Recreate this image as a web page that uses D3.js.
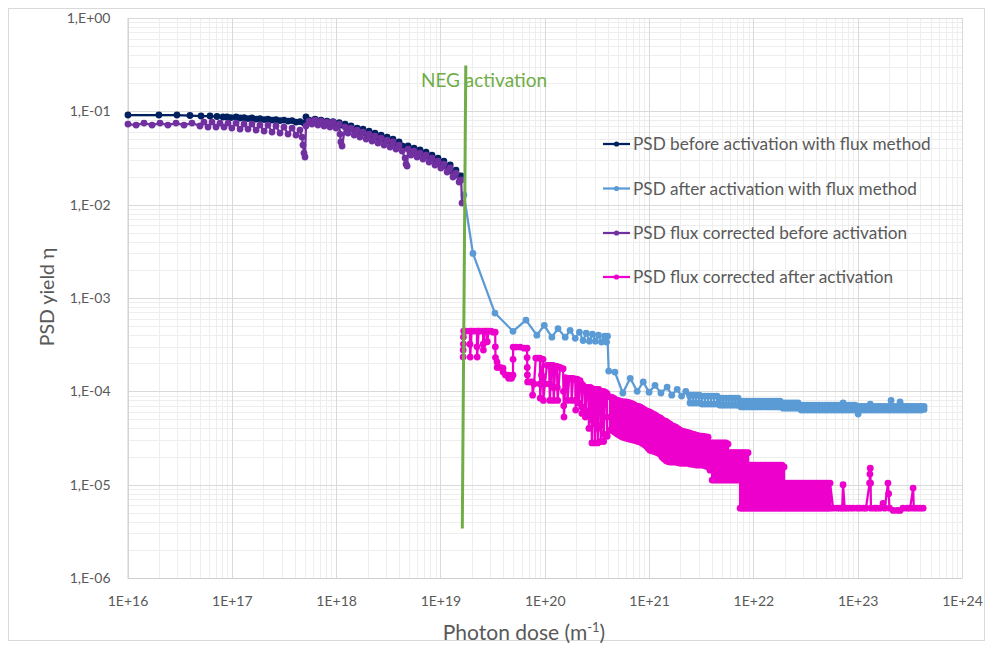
<!DOCTYPE html>
<html><head><meta charset="utf-8">
<script src="https://cdn.jsdelivr.net/npm/d3@7"></script>
<style>body{margin:0;background:#fff}svg{display:block}text{font-family:Lato,"Open Sans",sans-serif}</style>
</head><body><svg id="c" width="986" height="645"></svg>
<script>
const xTicks = [1e16,1e17,1e18,1e19,1e20,1e21,1e22,1e23,1e24];
const xTickLabels = ["1E+16","1E+17","1E+18","1E+19","1E+20","1E+21","1E+22","1E+23","1E+24"];
const yTicks = [1e-6,1e-5,1e-4,1e-3,1e-2,1e-1,1];
const yTickLabels = ["1,E-06","1,E-05","1,E-04","1,E-03","1,E-02","1,E-01","1,E+00"];
const seriesNames = ["PSD before activation with flux method","PSD after activation with flux method","PSD flux corrected before activation","PSD flux corrected after activation"];
const seriesColors = ["#002060","#5b9bd5","#7030a0","#ee00cc"];
const xTitle = "Photon dose (m";
const yTitle = "PSD yield η";
const negLabel = "NEG activation";

const navyBefore = [
[1.01e16,0.0913],[2.0e16,0.0913],[2.98e16,0.0913],[3.97e16,0.0902],[5.07e16,0.0891],[6.18e16,0.0891],[7.21e16,0.0880],[8.23e16,0.0869],
[8.99e16,0.0869],[9.82e16,0.0858],[1.10e17,0.0869],[1.20e17,0.0848],[1.31e17,0.0858],[1.43e17,0.0837],[1.56e17,0.0848],[1.71e17,0.0827],
[1.86e17,0.0837],[2.04e17,0.0817],[2.22e17,0.0827],[2.43e17,0.0807],[2.65e17,0.0817],[2.90e17,0.0797],[3.16e17,0.0807],[3.46e17,0.0787],
[3.78e17,0.0797],[4.12e17,0.0768],[4.50e17,0.0777],[4.92e17,0.0749],[5.14e17,0.0869],[5.50e17,0.0807],[5.87e17,0.0787],[6.28e17,0.0827],
[6.70e17,0.0777],[7.16e17,0.0807],[7.66e17,0.0768],[8.18e17,0.0787],[8.74e17,0.0749],[9.34e17,0.0777],[9.98e17,0.0731],[1.07e18,0.0758],
[1.14e18,0.0713],[1.22e18,0.0731],[1.30e18,0.0662],[1.39e18,0.0696],[1.49e18,0.0630],[1.59e18,0.0662],[1.69e18,0.0600],[1.81e18,0.0646],
[1.94e18,0.0571],[2.07e18,0.0615],[2.21e18,0.0543],[2.36e18,0.0585],[2.52e18,0.0517],[2.70e18,0.0557],[2.88e18,0.0492],[3.08e18,0.0530],
[3.29e18,0.0469],[3.51e18,0.0505],[3.75e18,0.0446],[4.01e18,0.0469],[4.29e18,0.0425],[4.58e18,0.0414],[4.89e18,0.0425],[5.23e18,0.0385],
[5.58e18,0.0404],[5.97e18,0.0366],[6.37e18,0.0385],[6.81e18,0.0349],[7.28e18,0.0366],[7.78e18,0.0324],[8.30e18,0.0340],[8.87e18,0.0301],
[9.48e18,0.0316],[1.01e19,0.0279],[1.08e19,0.0293],[1.16e19,0.0253],[1.24e19,0.0266],[1.32e19,0.0224],[1.41e19,0.0235],[1.51e19,0.0203],
[1.58e19,0.0203]
];

const blueAfter = [
[1.68e19,1.27e-2],[2.05e19,3.0e-3],[3.33e19,6.9e-4],[4.96e19,4.4e-4],[6.6e19,5.8e-4],[8.4e19,4.0e-4],[9.9e19,5.1e-4],[1.17e20,3.8e-4],
[1.34e20,4.7e-4],[1.57e20,3.8e-4],[1.75e20,4.5e-4],[1.96e20,3.7e-4],[2.15e20,4.3e-4],[2.33e20,3.5e-4],[2.5e20,4.2e-4],[2.68e20,3.45e-4],
[2.86e20,4.1e-4],[3.06e20,3.45e-4],[3.27e20,4.0e-4],[3.5e20,3.37e-4],[3.74e20,3.9e-4],[3.92e20,3.37e-4],[4.0e20,3.9e-4],[4.1e20,1.65e-4],
[4.7e20,1.61e-4],[5.6e20,9.6e-5],[6.6e20,1.38e-4],[7.7e20,1.0e-4],[8.8e20,1.26e-4],[1.0e21,9.8e-5],[1.14e21,1.16e-4],[1.3e21,9.6e-5],
[1.49e21,1.11e-4],[1.65e21,9.1e-5],[1.86e21,1.05e-4],[2.05e21,8.9e-5],[2.25e21,1.0e-4]
];
// dense part: [dose, highest yield, lowest yield]
const blueBand = [
[2.47e21,9.1e-5,7.5e-5],[2.64e21,9.1e-5,7.5e-5],[2.82e21,9.1e-5,7.5e-5],[3.02e21,9.1e-5,7.5e-5],[3.22e21,8.9e-5,7.3e-5],[3.44e21,8.9e-5,7.3e-5],
[3.68e21,8.9e-5,7.3e-5],[3.93e21,8.9e-5,7.3e-5],[4.20e21,8.9e-5,7.3e-5],[4.49e21,8.9e-5,7.3e-5],[4.80e21,8.45e-5,7.1e-5],[5.12e21,8.45e-5,7.1e-5],
[5.47e21,8.45e-5,7.1e-5],[5.85e21,8.45e-5,7.1e-5],[6.25e21,8.45e-5,7.1e-5],[6.68e21,8.45e-5,7.1e-5],[7.13e21,8.45e-5,7.1e-5],[7.62e21,7.85e-5,6.8e-5],
[8.14e21,7.85e-5,6.8e-5],[8.70e21,7.85e-5,6.8e-5],[9.30e21,7.85e-5,6.8e-5],[9.93e21,7.85e-5,6.8e-5],[1.06e22,7.85e-5,6.8e-5],[1.13e22,7.85e-5,6.8e-5],
[1.21e22,7.85e-5,6.8e-5],[1.29e22,7.85e-5,6.8e-5],[1.38e22,7.85e-5,6.8e-5],[1.48e22,7.85e-5,6.8e-5],[1.58e22,7.85e-5,6.8e-5],[1.69e22,7.85e-5,6.8e-5],
[1.80e22,7.85e-5,6.8e-5],[1.93e22,7.5e-5,6.6e-5],[2.06e22,7.5e-5,6.6e-5],[2.20e22,7.5e-5,6.6e-5],[2.35e22,7.5e-5,6.6e-5],[2.51e22,7.5e-5,6.6e-5],
[2.68e22,7.5e-5,6.6e-5],[2.87e22,7.1e-5,6.3e-5],[3.06e22,7.1e-5,6.3e-5],[3.27e22,7.1e-5,6.3e-5],[3.50e22,7.1e-5,6.3e-5],[3.74e22,7.1e-5,6.3e-5],
[3.99e22,7.1e-5,6.3e-5],[4.27e22,7.1e-5,6.3e-5],[4.56e22,7.1e-5,6.3e-5],[4.87e22,7.1e-5,6.3e-5],[5.20e22,7.1e-5,6.3e-5],[5.56e22,7.1e-5,6.3e-5],
[5.94e22,7.1e-5,6.3e-5],[6.35e22,7.1e-5,6.3e-5],[6.78e22,7.1e-5,6.3e-5],[7.24e22,7.5e-5,6.3e-5],[7.74e22,7.1e-5,6.3e-5],[8.27e22,7.1e-5,6.3e-5],
[8.84e22,7.1e-5,6.3e-5],[9.44e22,7.1e-5,6.3e-5],[1.01e23,6.9e-5,5.7e-5],[1.08e23,6.9e-5,6.3e-5],[1.15e23,6.9e-5,6.3e-5],[1.23e23,6.9e-5,6.3e-5],
[1.32e23,7.3e-5,6.3e-5],[1.40e23,6.9e-5,6.3e-5],[1.50e23,6.9e-5,6.3e-5],[1.60e23,6.9e-5,6.3e-5],[1.71e23,6.9e-5,6.3e-5],[1.83e23,6.9e-5,6.3e-5],
[1.96e23,6.9e-5,6.3e-5],[2.09e23,8.0e-5,6.3e-5],[2.23e23,6.9e-5,6.3e-5],[2.39e23,6.9e-5,6.3e-5],[2.55e23,7.7e-5,6.3e-5],[2.72e23,6.9e-5,6.3e-5],
[2.91e23,6.9e-5,6.3e-5],[3.11e23,6.9e-5,6.3e-5],[3.32e23,6.9e-5,6.3e-5],[3.55e23,6.9e-5,6.3e-5],[3.79e23,6.9e-5,6.3e-5],[4.05e23,6.9e-5,6.3e-5],
[4.33e23,6.9e-5,6.4e-5]
];

const purpleBefore = [
[1.01e16,0.0731],[1.21e16,0.0713],[1.44e16,0.0749],[1.72e16,0.0713],[2.05e16,0.0749],[2.44e16,0.0713],[2.92e16,0.0749],[3.48e16,0.0713],
[4.15e16,0.0749],[4.95e16,0.0696],[5.41e16,0.0768],[5.91e16,0.0679],[6.46e16,0.0768],[7.06e16,0.0679],[7.71e16,0.0749],[8.42e16,0.0679],
[9.20e16,0.0749],[1.00e17,0.0662],[1.10e17,0.0749],[1.20e17,0.0646],[1.31e17,0.0731],[1.43e17,0.0646],[1.56e17,0.0731],[1.71e17,0.0630],
[1.86e17,0.0713],[2.04e17,0.0615],[2.22e17,0.0713],[2.43e17,0.0600],[2.65e17,0.0696],[2.90e17,0.0585],[3.16e17,0.0679],[3.46e17,0.0571],
[3.78e17,0.0662],[4.12e17,0.0557],[4.50e17,0.0630],[4.71e17,0.0530],[4.81e17,0.0435],[4.92e17,0.0357],[5.03e17,0.0324],[5.14e17,0.0696],
[5.50e17,0.0787],[5.87e17,0.0731],[6.28e17,0.0807],[6.70e17,0.0713],[7.16e17,0.0787],[7.66e17,0.0696],[8.18e17,0.0768],[8.74e17,0.0679],
[9.34e17,0.0768],[9.98e17,0.0662],[1.07e18,0.0731],[1.09e18,0.0571],[1.11e18,0.0469],[1.14e18,0.0425],[1.22e18,0.0679],[1.30e18,0.0585],
[1.39e18,0.0662],[1.49e18,0.0557],[1.59e18,0.0630],[1.69e18,0.0530],[1.81e18,0.0600],[1.94e18,0.0505],[2.07e18,0.0571],[2.21e18,0.0480],
[2.36e18,0.0543],[2.52e18,0.0457],[2.70e18,0.0517],[2.88e18,0.0435],[3.08e18,0.0492],[3.29e18,0.0414],[3.51e18,0.0469],[3.75e18,0.0394],
[4.01e18,0.0435],[4.29e18,0.0375],[4.58e18,0.0316],[4.68e18,0.0272],[4.79e18,0.0259],[4.89e18,0.0394],[5.23e18,0.0340],[5.58e18,0.0375],
[5.97e18,0.0324],[6.37e18,0.0357],[6.81e18,0.0308],[7.28e18,0.0340],[7.78e18,0.0286],[8.30e18,0.0316],[8.87e18,0.0266],[9.48e18,0.0293],
[1.01e19,0.0247],[1.08e19,0.0272],[1.16e19,0.0224],[1.24e19,0.0247],[1.32e19,0.0198],[1.41e19,0.0218],[1.51e19,0.0175],[1.58e19,0.0184],
[1.61e19,0.0104]
];

const pinkEarly = [
[1.65e19,2.33e-4],[1.65e19,2.77e-4],[1.66e19,3.21e-4],[1.66e19,3.81e-4],[1.67e19,4.42e-4],[1.76e19,4.42e-4],
[1.92e19,4.42e-4],[1.92e19,3.2e-4],[1.93e19,2.33e-4],[1.99e19,4.42e-4],[2.10e19,4.42e-4],
[2.24e19,4.42e-4],[2.24e19,3.0e-4],[2.25e19,2.33e-4],[2.32e19,4.42e-4],[2.40e19,4.42e-4],
[2.56e19,4.42e-4],[2.57e19,3.2e-4],[2.58e19,2.77e-4],[2.68e19,4.42e-4],[2.80e19,4.42e-4],[2.81e19,3.4e-4],
[2.90e19,4.42e-4],[3.05e19,4.42e-4],[3.20e19,4.3e-4],[3.35e19,4.3e-4],[3.36e19,3.0e-4],[3.37e19,2.3e-4],
[3.49e19,2.06e-4],[3.50e19,1.8e-4],[3.73e19,1.8e-4],[3.98e19,1.77e-4],[3.99e19,1.61e-4],[4.20e19,1.5e-4],
[4.50e19,1.49e-4],[4.51e19,1.38e-4],[4.80e19,1.38e-4],[4.96e19,1.49e-4],[4.97e19,2.2e-4],[4.98e19,2.98e-4],
[5.30e19,2.98e-4],[5.80e19,2.98e-4],[6.33e19,2.9e-4],[6.77e19,2.9e-4],[6.78e19,2.3e-4],[6.80e19,1.8e-4],[6.82e19,1.5e-4],[6.85e19,1.26e-4],
[7.23e19,1.26e-4],[7.60e19,1.26e-4],[7.65e19,9.1e-5],[7.90e19,1.2e-4],[8.20e19,2.27e-4],[8.60e19,2.27e-4],
[9.00e19,2.27e-4],[9.02e19,1.2e-4],[9.05e19,8.45e-5],[9.30e19,1.5e-4],[9.63e19,2.2e-4],[9.65e19,1.4e-4],[9.70e19,8.0e-5],
[1.00e20,1.2e-4],[1.05e20,1.9e-4],[1.10e20,1.9e-4],[1.11e20,1.2e-4],[1.12e20,8.0e-5],[1.16e20,1.9e-4],
[1.20e20,1.9e-4],[1.21e20,1.1e-4],[1.22e20,8.0e-5],[1.26e20,1.85e-4],[1.31e20,1.85e-4],[1.32e20,1.1e-4],[1.33e20,8.0e-5],
[1.40e20,1.8e-4],[1.50e20,1.75e-4],[1.51e20,1.0e-4],[1.52e20,7.0e-5],[1.53e20,5.3e-5],[1.58e20,1.4e-4],
[1.64e20,1.38e-4],[1.65e20,8.0e-5],[1.72e20,1.38e-4],[1.80e20,1.38e-4],[1.81e20,8.0e-5],[1.87e20,1.38e-4],
[1.96e20,1.35e-4],[1.97e20,8.0e-5],[1.98e20,6.3e-5],[2.04e20,1.35e-4],[2.10e20,1.3e-4],[2.11e20,7.5e-5],[2.18e20,1.3e-4],
[2.25e20,1.2e-4],[2.26e20,6.8e-5],[2.27e20,5.8e-5],[2.33e20,1.16e-4],[2.43e20,1.1e-4],[2.44e20,6.3e-5],[2.45e20,5.3e-5],
[2.55e20,1.1e-4],[2.63e20,1.08e-4],[2.64e20,5.8e-5],[2.65e20,4.0e-5],[2.72e20,1.1e-4],[2.80e20,1.08e-4],[2.81e20,5.0e-5],[2.83e20,2.8e-5],
[2.90e20,1.05e-4],[3.00e20,1.05e-4],[3.01e20,4.5e-5],[3.02e20,2.8e-5],[3.10e20,1.05e-4],[3.20e20,1.0e-4],[3.21e20,4.0e-5],[3.22e20,2.8e-5],
[3.30e20,1.05e-4],[3.42e20,1.0e-4],[3.43e20,4.3e-5],[3.44e20,2.9e-5],[3.55e20,1.0e-4],[3.65e20,1.0e-4],[3.66e20,3.5e-5],[3.67e20,2.9e-5],
[3.80e20,9.8e-5],[3.95e20,9.5e-5],[3.96e20,5.3e-5],[3.97e20,3.3e-5]
];

// dense part: [dose, highest yield, lowest yield]
const pinkBand = [
[4.23e20,8.7e-5,3.84e-5],[4.42e20,8.6e-5,3.8e-5],[4.62e20,8.4e-5,3.7e-5],[4.83e20,8.1e-5,3.55e-5],[5.04e20,8.0e-5,3.45e-5],
[5.27e20,7.85e-5,3.35e-5],[5.51e20,7.75e-5,3.25e-5],[5.76e20,7.7e-5,3.2e-5],[6.02e20,7.7e-5,3.15e-5],[6.29e20,7.6e-5,3.1e-5],
[6.57e20,7.5e-5,3.07e-5],[6.87e20,7.4e-5,3.03e-5],[7.18e20,7.2e-5,3.0e-5],[7.51e20,7.0e-5,2.95e-5],[7.84e20,6.9e-5,2.9e-5],
[8.20e20,6.8e-5,2.86e-5],[8.57e20,6.6e-5,2.78e-5],[8.96e20,6.4e-5,2.7e-5],[9.36e20,6.2e-5,2.6e-5],[9.78e20,6.1e-5,2.45e-5],
[1.02e21,6.0e-5,2.34e-5],[1.07e21,5.8e-5,2.3e-5],[1.12e21,5.65e-5,2.27e-5],[1.17e21,5.5e-5,2.23e-5],[1.22e21,5.3e-5,2.18e-5],
[1.28e21,5.2e-5,2.12e-5],[1.33e21,5.0e-5,1.98e-5],[1.39e21,4.85e-5,1.88e-5],[1.46e21,4.75e-5,1.8e-5],[1.52e21,4.6e-5,1.77e-5],
[1.59e21,4.45e-5,1.75e-5],[1.66e21,4.3e-5,1.75e-5],[1.74e21,4.2e-5,1.75e-5],[1.82e21,4.1e-5,1.75e-5],[1.90e21,3.95e-5,1.72e-5],
[1.98e21,3.84e-5,1.7e-5],[2.07e21,3.75e-5,1.7e-5],[2.17e21,3.7e-5,1.7e-5],[2.26e21,3.65e-5,1.7e-5],[2.37e21,3.6e-5,1.7e-5],
[2.47e21,3.57e-5,1.66e-5],[2.58e21,3.5e-5,1.66e-5],[2.70e21,3.45e-5,1.64e-5],[2.82e21,3.4e-5,1.62e-5],[2.95e21,3.35e-5,1.62e-5],
[3.08e21,3.3e-5,1.62e-5],[3.22e21,3.3e-5,1.62e-5],[3.37e21,3.28e-5,1.6e-5],[3.52e21,3.25e-5,1.58e-5],[3.68e21,3.23e-5,1.55e-5],
[3.84e21,2.8e-5,1.43e-5],[4.02e21,2.8e-5,1.12e-5],[4.20e21,2.8e-5,1.12e-5],[4.39e21,2.8e-5,1.12e-5],[4.59e21,2.8e-5,1.12e-5],
[4.80e21,2.8e-5,1.12e-5],[5.01e21,2.8e-5,1.12e-5],[5.24e21,2.8e-5,1.12e-5],[5.47e21,2.8e-5,1.12e-5],[5.72e21,2.72e-5,1.12e-5],
[5.98e21,2.2e-5,1.12e-5],[6.25e21,2.2e-5,1.12e-5],[6.53e21,2.2e-5,1.12e-5],[6.83e21,2.2e-5,1.12e-5],[7.13e21,2.2e-5,1.12e-5],
[7.46e21,2.2e-5,5.6e-6],[7.79e21,2.2e-5,5.6e-6],[8.14e21,2.2e-5,5.6e-6],[8.51e21,2.2e-5,5.6e-6],[8.90e21,2.2e-5,5.6e-6],
[9.30e21,1.62e-5,5.6e-6],[9.71e21,1.62e-5,5.6e-6],[1.02e22,1.62e-5,5.6e-6],[1.06e22,1.62e-5,5.6e-6],[1.11e22,1.62e-5,5.6e-6],
[1.16e22,1.62e-5,5.6e-6],[1.21e22,1.62e-5,5.6e-6],[1.27e22,1.62e-5,5.6e-6],[1.32e22,1.62e-5,5.6e-6],[1.38e22,1.62e-5,5.6e-6],
[1.45e22,1.62e-5,5.6e-6],[1.51e22,1.62e-5,5.6e-6],[1.58e22,1.62e-5,5.6e-6],[1.65e22,1.62e-5,5.6e-6],[1.73e22,1.62e-5,5.6e-6],
[1.80e22,1.62e-5,5.6e-6],[1.88e22,1.62e-5,5.6e-6],[1.97e22,1.55e-5,5.6e-6],[2.06e22,1.04e-5,5.6e-6],[2.15e22,1.04e-5,5.6e-6],
[2.25e22,1.04e-5,5.6e-6],[2.35e22,1.04e-5,5.6e-6],[2.46e22,1.04e-5,5.6e-6],[2.57e22,1.04e-5,5.6e-6],[2.68e22,1.04e-5,5.6e-6],
[2.80e22,1.04e-5,5.6e-6],[2.93e22,1.04e-5,5.6e-6],[3.06e22,1.04e-5,5.6e-6],[3.20e22,1.04e-5,5.6e-6],[3.35e22,1.04e-5,5.6e-6],
[3.50e22,1.04e-5,5.6e-6],[3.65e22,1.04e-5,5.6e-6],[3.82e22,1.04e-5,5.6e-6],[3.99e22,1.04e-5,5.6e-6],[4.17e22,1.04e-5,5.6e-6],
[4.36e22,1.04e-5,5.6e-6],[4.56e22,1.04e-5,5.6e-6],[4.76e22,1.04e-5,5.6e-6],[4.98e22,1.04e-5,5.6e-6],[5.20e22,1.04e-5,5.6e-6],
[5.44e22,1.04e-5,5.6e-6]
];

const pinkTail = [
[5.81e22,5.6e-6],[6.35e22,5.6e-6],[6.78e22,5.6e-6],[7.1e22,5.6e-6],[7.24e22,1.0e-5],[7.5e22,5.6e-6],[7.91e22,5.6e-6],[8.45e22,5.6e-6],
[9.03e22,5.6e-6],[9.87e22,5.6e-6],[1.05e23,5.6e-6],[1.13e23,5.6e-6],[1.2e23,5.6e-6],[1.3e23,1.04e-5],[1.31e23,1.3e-5],[1.32e23,1.5e-5],
[1.33e23,1.04e-5],[1.34e23,5.6e-6],[1.45e23,5.6e-6],[1.53e23,5.6e-6],[1.64e23,5.6e-6],[1.75e23,6.3e-6],[1.82e23,5.6e-6],[1.95e23,1.04e-5],
[1.98e23,8.0e-6],[2.02e23,5.6e-6],[2.19e23,5.3e-6],[2.39e23,5.3e-6],[2.55e23,5.3e-6],[2.72e23,5.6e-6],[2.98e23,5.6e-6],[3.18e23,5.6e-6],
[3.4e23,9.2e-6],[3.45e23,5.6e-6],[3.71e23,5.6e-6],[3.97e23,5.6e-6],[4.24e23,5.6e-6]
];

const negActivation = [[1.75e19,0.31],[1.62e19,3.4e-6]];

// ---- drawing ----
const svg = d3.select("#c");
const X0 = 127.5, X1 = 962, Y0 = 578, Y1 = 18;
const x = d3.scaleLog().domain([1e16,1e24]).range([X0,X1]);
const y = d3.scaleLog().domain([1e-6,1]).range([Y0,Y1]);

svg.append("rect").attr("x",8.5).attr("y",8.5).attr("width",976).attr("height",632)
  .attr("fill","#fff").attr("stroke","#d9d9d9");

const grid = svg.append("g");
const minorX = [], minorY = [];
xTicks.slice(0,-1).forEach(t=>{for(let k=2;k<10;k++) minorX.push(t*k);});
yTicks.slice(0,-1).forEach(t=>{for(let k=2;k<10;k++) minorY.push(t*k);});
grid.selectAll(".mx").data(minorX).join("line").attr("x1",d=>Math.round(x(d))+0.5).attr("x2",d=>Math.round(x(d))+0.5)
  .attr("y1",Y1).attr("y2",Y0).attr("stroke","#eeeeee");
grid.selectAll(".my").data(minorY).join("line").attr("y1",d=>Math.round(y(d))+0.5).attr("y2",d=>Math.round(y(d))+0.5)
  .attr("x1",X0).attr("x2",X1).attr("stroke","#eeeeee");
grid.selectAll(".Mx").data(xTicks).join("line").attr("x1",d=>Math.round(x(d))+0.5).attr("x2",d=>Math.round(x(d))+0.5)
  .attr("y1",Y1).attr("y2",Y0).attr("stroke","#d9d9d9");
grid.selectAll(".My").data(yTicks).join("line").attr("y1",d=>Math.round(y(d))+0.5).attr("y2",d=>Math.round(y(d))+0.5)
  .attr("x1",X0).attr("x2",X1).attr("stroke","#d9d9d9");

const xAxis = d3.axisBottom(x).tickValues(xTicks).tickFormat((d,i)=>xTickLabels[i]).tickSize(0).tickPadding(18);
const gx = svg.append("g").attr("transform",`translate(0,${Y0})`).call(xAxis);
gx.select(".domain").attr("stroke","#d0d0d0");
gx.selectAll("text").attr("fill","#595959").style("font-size","14px").style("font-family","Lato");
const yAxis = d3.axisLeft(y).tickValues(yTicks).tickFormat((d,i)=>yTickLabels[i]).tickSize(0).tickPadding(17);
const gy = svg.append("g").attr("transform",`translate(${X0},0)`).call(yAxis);
gy.select(".domain").attr("stroke","#d0d0d0");
gy.selectAll("text").attr("fill","#595959").style("font-size","14px").style("font-family","Lato");

const line = d3.line().x(d=>x(d[0])).y(d=>y(d[1]));
function drawSeries(data,color){
  const g = svg.append("g");
  g.append("path").datum(data).attr("d",line).attr("fill","none").attr("stroke",color)
    .attr("stroke-width",2.25).attr("stroke-linejoin","round");
  g.selectAll("circle").data(data).join("circle").attr("cx",d=>x(d[0])).attr("cy",d=>y(d[1]))
    .attr("r",3.4).attr("fill",color);
}
// dense columns are visited alternately low->high and high->low
function withBand(start,band,tail){
  const out = start.slice();
  band.forEach((d,i)=>{
    if(i%2===0){out.push([d[0],d[2]],[d[0],d[1]]);} else {out.push([d[0],d[1]],[d[0],d[2]]);}
  });
  (tail||[]).forEach(d=>out.push(d));
  return out;
}

drawSeries(navyBefore,seriesColors[0]);
drawSeries(withBand(blueAfter,blueBand),seriesColors[1]);
drawSeries(purpleBefore,seriesColors[2]);
drawSeries(withBand(pinkEarly,pinkBand,pinkTail),seriesColors[3]);

svg.append("path").datum(negActivation).attr("d",line).attr("fill","none").attr("stroke","#70ad47").attr("stroke-width",3);
svg.append("text").attr("x",484).attr("y",87).attr("text-anchor","middle").attr("fill","#70ad47")
  .style("font-size","19px").text(negLabel);

const legY = [144,188.5,233,277];
const leg = svg.append("g");
seriesNames.forEach((n,i)=>{
  leg.append("line").attr("x1",603).attr("x2",630).attr("y1",legY[i]).attr("y2",legY[i])
    .attr("stroke",seriesColors[i]).attr("stroke-width",2.25);
  leg.append("circle").attr("cx",616.5).attr("cy",legY[i]).attr("r",2.6).attr("fill",seriesColors[i]);
  leg.append("text").attr("x",633).attr("y",legY[i]).attr("dy","0.35em").attr("fill","#595959")
    .style("font-size","17.2px").text(n);
});

const xt = svg.append("text").attr("x",524).attr("y",640).attr("text-anchor","middle").attr("fill","#595959")
  .style("font-size","21px");
xt.append("tspan").text(xTitle);
xt.append("tspan").attr("dy",-8).style("font-size","13px").text("-1");
xt.append("tspan").attr("dy",8).text(")");
svg.append("text").attr("transform","translate(54,297) rotate(-90)").attr("text-anchor","middle")
  .attr("fill","#595959").style("font-size","19.5px").text(yTitle);
</script></body></html>
